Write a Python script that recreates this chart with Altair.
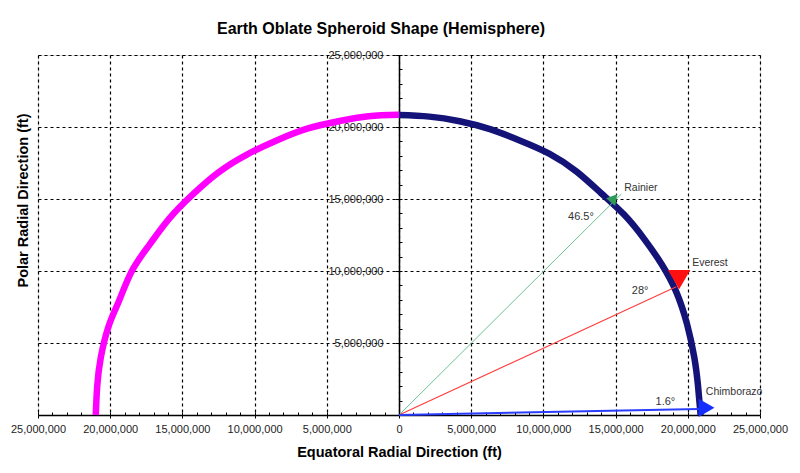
import altair as alt
import pandas as pd

# ---- data (values in millions of feet) ----
west_x = [-21.0, -20.9, -20.65, -20.1, -19.4, -18.5, -17.3, -15.9, -14.3, -12.5, -10.5, -8.4, -6.3, -4.2, -2.1, 0.0]
west_y = [0.0, 2.0, 4.0, 6.2, 7.9, 10.0, 11.8, 13.65, 15.3, 16.85, 18.1, 19.1, 19.9, 20.4, 20.75, 20.85]

east_x = [0.0, 2.1, 4.2, 6.3, 8.4, 10.4, 12.3, 14.0, 15.6, 17.0, 18.2, 19.2, 19.95, 20.45, 20.7, 20.89]
east_y = [20.83, 20.72, 20.4, 19.85, 19.05, 18.15, 16.9, 15.4, 13.9, 12.2, 10.45, 8.55, 6.3, 4.0, 2.1, 0.0]

sites = ["Rainier", "Everest", "Chimborazo"]
site_x = [14.85, 19.4, 21.3]
site_y = [14.85, 9.4, 0.5]
ray_x0 = [0.0, 0.0, 0.0]
ray_y0 = [0.0, 0.0, 0.0]
ray_x1 = [15.4, 19.2, 20.8]
ray_y1 = [15.35, 8.9, 0.42]
name_x = [15.6, 20.3, 21.25]
name_y = [15.75, 10.55, 1.62]
angles = ["46.5°", "28°", "1.6°"]
angle_x = [12.6, 16.7, 18.45]
angle_y = [13.75, 8.6, 0.92]

x_ticks = [-25, -20, -15, -10, -5, 0, 5, 10, 15, 20, 25]
y_ticks = [5, 10, 15, 20, 25]
x_minor = list(range(-25, 26))
y_minor = list(range(0, 26))

M = 1_000_000
west = pd.DataFrame({"x": [v * M for v in west_x], "y": [v * M for v in west_y], "i": range(len(west_x))})
east = pd.DataFrame({"x": [v * M for v in east_x], "y": [v * M for v in east_y], "i": range(len(east_x))})
pts = pd.DataFrame({
    "site": sites,
    "x": [v * M for v in site_x], "y": [v * M for v in site_y],
    "x0": [v * M for v in ray_x0], "y0": [v * M for v in ray_y0],
    "x1": [v * M for v in ray_x1], "y1": [v * M for v in ray_y1],
    "nx": [v * M for v in name_x], "ny": [v * M for v in name_y],
    "ang": angles,
    "ax": [v * M for v in angle_x], "ay": [v * M for v in angle_y],
})

FONT = "Liberation Sans"
xs = alt.Scale(domain=[-25 * M, 25 * M], nice=False, zero=False)
ys = alt.Scale(domain=[0, 25 * M], nice=False, zero=False)

x_axis = alt.Axis(
    values=[v * M for v in x_ticks],
    labelExpr="format(abs(datum.value), ',')",
    grid=True, gridColor="black", gridDash=[3, 3], gridWidth=1.2, gridOpacity=1,
    domainColor="black", domainWidth=1.5, tickColor="black", tickSize=3,
    labelFont=FONT, labelFontSize=11, labelColor="#222", labelPadding=5,
    labelFlush=False, labelOverlap=False,
    title="Equatoral Radial Direction (ft)", titleFont=FONT, titleFontSize=14.5,
    titleFontWeight="bold", titleColor="black", titlePadding=11,
)
y_axis = alt.Axis(
    orient="left", offset=-361,
    values=[v * M for v in y_ticks],
    labelExpr="format(datum.value, ',')",
    grid=True, gridColor="black", gridDash=[3, 3], gridWidth=1.2, gridOpacity=1,
    domainColor="black", domainWidth=1.5, tickColor="black", tickSize=4,
    labelFont=FONT, labelFontSize=11, labelColor="#222", labelPadding=12,
    labelOverlap=False, labelFlush=False,
    title="Polar Radial Direction (ft)", titleFont=FONT, titleFontSize=14.5,
    titleFontWeight="bold", titleColor="black",
    titleX=-376, titleY=145, titleAngle=270, titleBaseline="middle", titleAlign="center",
)

west_line = alt.Chart(west).mark_line(
    color="#ff00ff", strokeWidth=6.5, strokeCap="butt", interpolate="natural"
).encode(
    x=alt.X("x:Q", scale=xs, axis=x_axis),
    y=alt.Y("y:Q", scale=ys, axis=y_axis),
    order="i:Q",
)
east_line = alt.Chart(east).mark_line(
    color="#141478", strokeWidth=6.5, strokeCap="butt", interpolate="natural"
).encode(
    x=alt.X("x:Q", scale=xs, axis=None),
    y=alt.Y("y:Q", scale=ys, axis=None),
    order="i:Q",
)

def ray(site, color, width):
    return alt.Chart(pts).transform_filter(alt.datum.site == site).mark_rule(
        color=color, strokeWidth=width
    ).encode(
        x=alt.X("x0:Q", scale=xs, axis=None), y=alt.Y("y0:Q", scale=ys, axis=None),
        x2="x1:Q", y2="y1:Q",
    )

def marker(site, shape, color, size, angle):
    return alt.Chart(pts).transform_filter(alt.datum.site == site).mark_point(
        shape=shape, filled=True, color=color, size=size, angle=angle, opacity=1
    ).encode(
        x=alt.X("x:Q", scale=xs, axis=None), y=alt.Y("y:Q", scale=ys, axis=None),
    )

names = alt.Chart(pts).mark_text(font=FONT, fontSize=10.5, color="#333", align="left", baseline="middle").encode(
    x=alt.X("nx:Q", scale=xs, axis=None), y=alt.Y("ny:Q", scale=ys, axis=None), text="site:N",
)
angle_text = alt.Chart(pts).mark_text(font=FONT, fontSize=11, color="#333", align="center", baseline="middle").encode(
    x=alt.X("ax:Q", scale=xs, axis=None), y=alt.Y("ay:Q", scale=ys, axis=None), text="ang:N",
)

minor = alt.Chart(east).mark_point(opacity=0).encode(
    x=alt.X("x:Q", scale=xs, axis=alt.Axis(
        orient="top", offset=-360, values=[v * M for v in x_minor], labels=False, grid=False,
        domain=False, ticks=True, tickSize=3, tickColor="black", title="")),
    y=alt.Y("y:Q", scale=ys, axis=alt.Axis(
        orient="right", offset=-361, values=[v * M for v in y_minor], labels=False, grid=False,
        domain=False, ticks=True, tickSize=3, tickColor="black", title="")),
)

chart = alt.layer(
    west_line, east_line,
    ray("Rainier", "#6cc096", 1), ray("Everest", "#ff3b3b", 1.1), ray("Chimborazo", "#2a3dff", 2),
    marker("Rainier", "triangle-down", "#2f9a58", 140, 340),
    marker("Everest", "triangle-down", "#ff1010", 500, 0),
    marker("Chimborazo", "triangle-right", "#1430ff", 330, 0),
    names, angle_text, minor,
).resolve_axis(x="independent", y="independent").properties(
    width=722, height=360,
    title=alt.TitleParams(
        "Earth Oblate Spheroid Shape (Hemisphere)", font=FONT, fontSize=16, fontWeight="bold",
        color="black", anchor="middle", dx=-18, offset=12,
    ),
    autosize=alt.AutoSizeParams(type="none"),
    padding={"left": 30, "top": 47, "right": 32, "bottom": 50},
).configure_view(stroke=None).configure(background="white")

chart.save("out.html", embed_options={"renderer": "svg", "actions": False})
